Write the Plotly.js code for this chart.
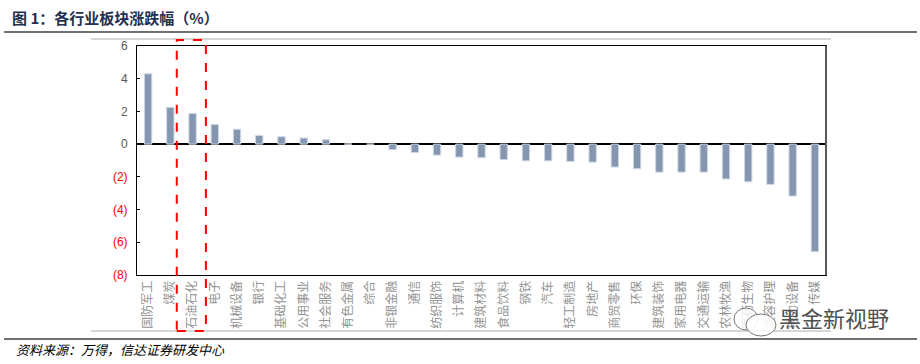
<!DOCTYPE html>
<html>
<head>
<meta charset="utf-8">
<script src="https://cdn.plot.ly/plotly-3.0.1.min.js"></script>
<style>html,body{margin:0;padding:0;background:#fff;}#chart{width:920px;height:364px;}</style>
</head>
<body>
<div id="chart"></div>
<script>
const categories = ['国防军工','煤炭','石油石化','电子','机械设备','银行','基础化工','公用事业','社会服务','有色金属','综合','非银金融','通信','纺织服饰','计算机','建筑材料','食品饮料','钢铁','汽车','轻工制造','房地产','商贸零售','环保','建筑装饰','家用电器','交通运输','农林牧渔','医药生物','美容护理','电力设备','传媒'];
const values = [4.30, 2.25, 1.87, 1.20, 0.91, 0.53, 0.45, 0.37, 0.27, 0.01, 0.00, -0.33, -0.51, -0.67, -0.79, -0.83, -0.94, -1.02, -1.02, -1.06, -1.10, -1.40, -1.50, -1.71, -1.71, -1.71, -2.13, -2.30, -2.46, -3.17, -6.57];
const yTickVals = [6, 4, 2, 0, -2, -4, -6, -8];
const yTickText = ['6', '4', '2', '0', '(2)', '(4)', '(6)', '(8)'];
const titleText = '图 1：各行业板块涨跌幅（%）';
const sourceText = '资料来源：万得，信达证券研发中心';
const watermarkText = '黑金新视野';
const highlightIndex = 2;

// plot area in pixels
const L = 137, R = 826, T = 46, B = 275;
const px = x => (x - L) / (R - L);
const py = y => (B - y) / (B - T);

const styledTicks = yTickText.map((t, i) => yTickVals[i] < 0 ? '<span style="color:#ff0000">' + t + '</span>' : t);

const trace = {
  type: 'bar',
  x: categories,
  y: values,
  width: 0.33,
  marker: {color: '#8496b0', line: {color: '#cdd6e4', width: 1}},
  hoverinfo: 'x+y'
};

function hline(x0, x1, y, color, w) {
  return {type: 'line', xref: 'paper', yref: 'paper', x0: px(x0), x1: px(x1), y0: py(y), y1: py(y), line: {color: color, width: w}};
}

const layout = {
  width: 920, height: 364,
  margin: {l: L, r: 920 - R, t: T, b: 364 - B, pad: 0},
  paper_bgcolor: '#ffffff', plot_bgcolor: '#ffffff',
  showlegend: false,
  font: {family: 'Liberation Sans, Arial, sans-serif', size: 12, color: '#595959'},
  xaxis: {
    type: 'category',
    showgrid: false, zeroline: false,
    showline: true, mirror: true, linecolor: '#000000', linewidth: 1,
    ticks: '', tickangle: -90,
    tickfont: {family: 'Noto Sans CJK SC', size: 12, color: '#939393'},
    automargin: false
  },
  yaxis: {
    range: [-8, 6],
    tickvals: yTickVals, ticktext: styledTicks,
    showgrid: false,
    zeroline: true, zerolinecolor: '#000000', zerolinewidth: 1.5,
    showline: true, mirror: true, linecolor: '#000000', linewidth: 1,
    ticks: 'inside', ticklen: 3, tickcolor: '#000000',
    tickfont: {family: 'Liberation Sans, Arial, sans-serif', size: 12, color: '#595959'},
    ticklabelstandoff: 6,
    automargin: false
  },
  shapes: [
    hline(4, 917, 32, '#404040', 1.5),
    hline(91, 831, 39, '#c8c8c8', 1.5),
    hline(91, 831, 331, '#c8c8c8', 1.5),
    hline(4, 917, 339, '#404040', 1.5),
    {type: 'line', xref: 'paper', yref: 'paper', x0: 1, x1: 1, y0: 0, y1: 1, line: {color: '#595959', width: 2}},
    {type: 'rect', xref: 'x', yref: 'paper', x0: highlightIndex - 0.71, x1: highlightIndex + 0.6, y0: py(331), y1: py(40),
      line: {color: '#ff0000', width: 2, dash: 'dash'}, fillcolor: 'rgba(0,0,0,0)'},
    {type: 'circle', xref: 'paper', yref: 'paper', x0: px(734), x1: px(758), y0: py(330), y1: py(308), line: {color: '#777', width: 1}, fillcolor: 'rgba(255,255,255,0.8)'},
    {type: 'circle', xref: 'paper', yref: 'paper', x0: px(746), x1: px(776), y0: py(336), y1: py(314), line: {color: '#777', width: 1}, fillcolor: 'rgba(255,255,255,0.9)'}
  ],
  annotations: [
    {xref: 'paper', yref: 'paper', x: px(10), y: py(17), xanchor: 'left', yanchor: 'middle', showarrow: false,
      text: '<b>' + titleText + '</b>', font: {family: 'Noto Sans CJK SC', size: 15, color: '#1f3050'}},
    {xref: 'paper', yref: 'paper', x: px(14), y: py(349), xanchor: 'left', yanchor: 'middle', showarrow: false,
      text: '<i>' + sourceText + '</i>', font: {family: 'Noto Sans CJK SC', size: 13, color: '#000000'}},
    {xref: 'paper', yref: 'paper', x: px(777), y: py(317), xanchor: 'left', yanchor: 'middle', showarrow: false,
      text: watermarkText, font: {family: 'Noto Sans CJK SC', size: 22, color: '#505050'}}
  ]
};

Plotly.newPlot('chart', [trace], layout, {displayModeBar: false, staticPlot: true});
</script>
</body>
</html>
